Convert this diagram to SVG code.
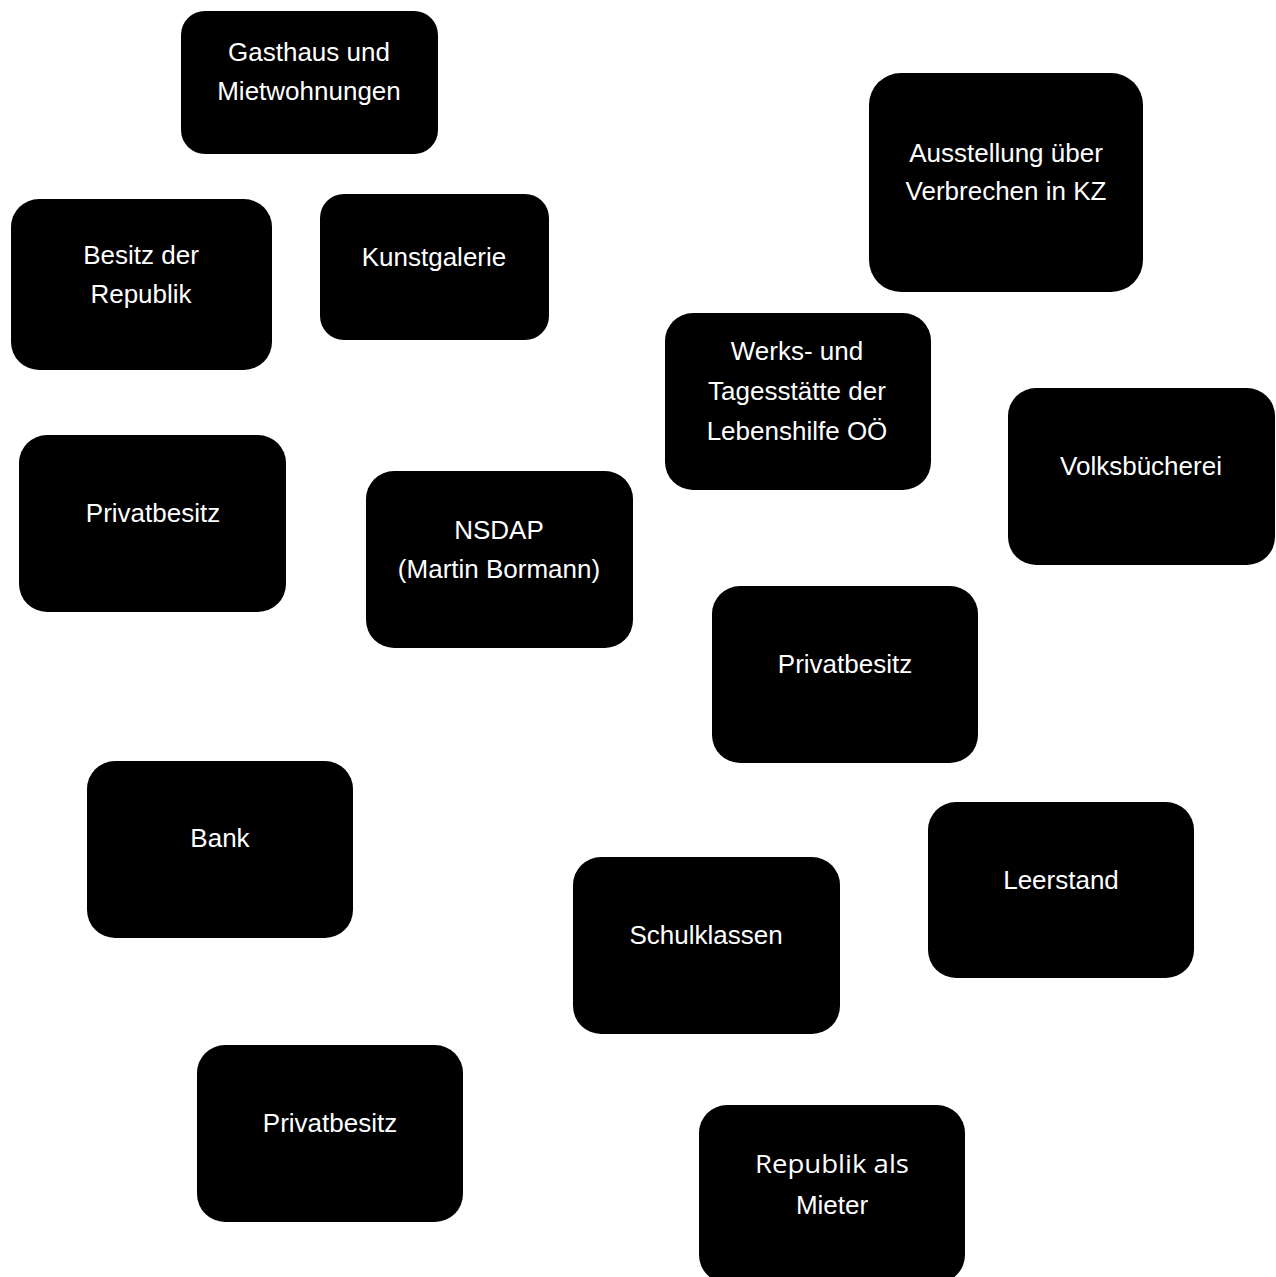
<svg xmlns="http://www.w3.org/2000/svg" width="1276" height="1277" viewBox="0 0 1276 1277">
<style>
.box{fill:#000;}
.t{fill:#fff;font-family:"Liberation Sans",Arial,sans-serif;font-size:26px;text-anchor:middle;}
.c{fill:#fff;font-family:"Open Sans","Noto Sans",sans-serif;font-size:26px;text-anchor:middle;}
</style>
<rect width="1276" height="1277" fill="#fff"/>
<g id="connectors"></g>
<g id="n1"><rect class="box" x="181" y="11" width="257" height="143" rx="24"/><text class="t" x="309" y="61">Gasthaus und</text><text class="t" x="309" y="100">Mietwohnungen</text></g>
<g id="n2"><rect class="box" x="869" y="73" width="274" height="219" rx="32"/><text class="t" x="1006" y="162">Ausstellung über</text><text class="t" x="1006" y="200">Verbrechen in KZ</text></g>
<g id="n3"><rect class="box" x="11" y="199" width="261" height="171" rx="28"/><text class="t" x="141" y="264">Besitz der</text><text class="t" x="141" y="303">Republik</text></g>
<g id="n4"><rect class="box" x="320" y="194" width="229" height="146" rx="24"/><text class="t" x="434" y="266">Kunstgalerie</text></g>
<g id="n5"><rect class="box" x="665" y="313" width="266" height="177" rx="28"/><text class="t" x="797" y="360">Werks- und</text><text class="t" x="797" y="400">Tagesstätte der</text><text class="t" x="797" y="440">Lebenshilfe OÖ</text></g>
<g id="n6"><rect class="box" x="1008" y="388" width="267" height="177" rx="28"/><text class="t" x="1141" y="475">Volksbücherei</text></g>
<g id="n7"><rect class="box" x="19" y="435" width="267" height="177" rx="28"/><text class="t" x="153" y="522">Privatbesitz</text></g>
<g id="n8"><rect class="box" x="366" y="471" width="267" height="177" rx="28"/><text class="t" x="499" y="539">NSDAP</text><text class="t" x="499" y="578">(Martin Bormann)</text></g>
<g id="n9"><rect class="box" x="712" y="586" width="266" height="177" rx="28"/><text class="t" x="845" y="673">Privatbesitz</text></g>
<g id="n10"><rect class="box" x="87" y="761" width="266" height="177" rx="28"/><text class="t" x="220" y="847">Bank</text></g>
<g id="n11"><rect class="box" x="928" y="802" width="266" height="176" rx="28"/><text class="t" x="1061" y="889">Leerstand</text></g>
<g id="n12"><rect class="box" x="573" y="857" width="267" height="177" rx="28"/><text class="t" x="706" y="944">Schulklassen</text></g>
<g id="n13"><rect class="box" x="197" y="1045" width="266" height="177" rx="28"/><text class="t" x="330" y="1132">Privatbesitz</text></g>
<g id="n14"><rect class="box" x="699" y="1105" width="266" height="178" rx="28"/><text class="c" x="832" y="1173" textLength="154" lengthAdjust="spacingAndGlyphs">Republik als</text><text class="t" x="832" y="1214">Mieter</text></g>
</svg>
